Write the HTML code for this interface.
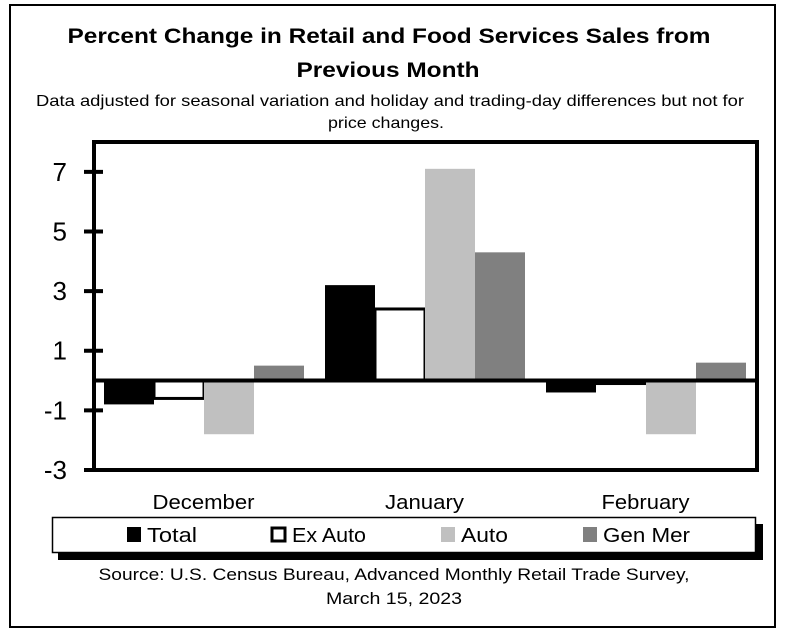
<!DOCTYPE html>
<html><head><meta charset="utf-8"><style>
html,body{margin:0;padding:0;background:#fff;}
body{width:786px;height:633px;position:relative;overflow:hidden;font-family:"Liberation Sans",sans-serif;}
</style></head><body>
<svg width="786" height="633" xmlns="http://www.w3.org/2000/svg" style="position:absolute;left:0;top:0">
<rect x="10" y="5" width="765" height="622" fill="none" stroke="#000" stroke-width="2"/>
<g font-family="Liberation Sans, sans-serif" text-anchor="middle">
<text x="389" y="43" font-size="21" font-weight="bold" textLength="643" lengthAdjust="spacingAndGlyphs">Percent Change in Retail and Food Services Sales from</text>
<text x="388" y="77" font-size="21" font-weight="bold" textLength="183" lengthAdjust="spacingAndGlyphs">Previous Month</text>
<text x="390" y="106" font-size="16" textLength="708" lengthAdjust="spacingAndGlyphs">Data adjusted for seasonal variation and holiday and trading-day differences but not for</text>
<text x="386" y="128" font-size="16" textLength="116" lengthAdjust="spacingAndGlyphs">price changes.</text>
<text x="394" y="580" font-size="17" textLength="591" lengthAdjust="spacingAndGlyphs">Source: U.S. Census Bureau, Advanced Monthly Retail Trade Survey,</text>
<text x="394" y="604" font-size="17" textLength="136" lengthAdjust="spacingAndGlyphs">March 15, 2023</text>
</g>
<g id="bars"></g>
<rect x="94" y="142" width="663" height="328" fill="none" stroke="#000" stroke-width="4"/>
<g id="axis"></g>
<rect x="58" y="524" width="705" height="36" fill="#000"/>
<rect x="52.5" y="517.5" width="703" height="35" fill="#fff" stroke="#000" stroke-width="1.5"/>
<g font-size="20" font-family="Liberation Sans, sans-serif">
<rect x="127" y="527" width="14" height="15" fill="#000"/>
<text x="147" y="542" textLength="50" lengthAdjust="spacingAndGlyphs">Total</text>
<rect x="272" y="528" width="13" height="13" fill="#fff" stroke="#000" stroke-width="3"/>
<text x="292" y="542" textLength="74" lengthAdjust="spacingAndGlyphs">Ex Auto</text>
<rect x="441" y="527" width="14" height="15" fill="#c0c0c0"/>
<text x="461" y="542" textLength="47" lengthAdjust="spacingAndGlyphs">Auto</text>
<rect x="583" y="527" width="14" height="15" fill="#808080"/>
<text x="603" y="542" textLength="87" lengthAdjust="spacingAndGlyphs">Gen Mer</text>
</g>
</svg>
<script>
const categories=["December","January","February"];
const total=[-0.8,3.2,-0.4];
const exAuto=[-0.6,2.4,-0.1];
const auto=[-1.8,7.1,-1.8];
const genMer=[0.5,4.3,0.6];
const yTicks=[7,5,3,1,-1,-3];
const catWidths=[102,79,88];
const NS="http://www.w3.org/2000/svg";
const yMin=-3,yMax=8,plotTop=142,plotBot=470,plotLeft=94,plotRight=757;
function yScale(v){return plotBot-(v-yMin)/(yMax-yMin)*(plotBot-plotTop);}
const gw=(plotRight-plotLeft)/categories.length;
const series=[{v:total,f:"#000",s:"none",n:"total"},{v:exAuto,f:"#fff",s:"#000",n:"ex-auto"},{v:auto,f:"#c0c0c0",s:"none",n:"auto"},{v:genMer,f:"#808080",s:"none",n:"gen-mer"}];
const bw=50;
const bars=document.getElementById('bars');
categories.forEach((c,i)=>{
  const gx=plotLeft+i*gw+10;
  series.forEach((s,j)=>{
    const val=s.v[i];const y0=yScale(0),y1=yScale(val);
    const r=document.createElementNS(NS,'rect');
    r.setAttribute('x',gx+j*bw);r.setAttribute('width',bw);
    r.setAttribute('y',Math.min(y0,y1));r.setAttribute('height',Math.max(Math.abs(y1-y0),0.5));
    r.setAttribute('fill',s.f);
    if(s.s!=="none"){r.setAttribute('stroke',s.s);r.setAttribute('stroke-width',3);}
    
    
    bars.appendChild(r);
  });
  const t=document.createElementNS(NS,'text');
  t.setAttribute('x',plotLeft+i*gw+gw/2-1);t.setAttribute('y',509);
  t.setAttribute('text-anchor','middle');t.setAttribute('font-size','20');
  t.setAttribute('font-family','Liberation Sans, sans-serif');
  t.setAttribute('textLength',catWidths[i]);t.setAttribute('lengthAdjust','spacingAndGlyphs');
  t.textContent=c;
  
  
  bars.appendChild(t);
});
const ax=document.getElementById('axis');
const zl=document.createElementNS(NS,'line');
zl.setAttribute('x1',plotLeft);zl.setAttribute('x2',plotRight);zl.setAttribute('y1',yScale(0));zl.setAttribute('y2',yScale(0));
zl.setAttribute('stroke','#000');zl.setAttribute('stroke-width',4);


ax.appendChild(zl);
yTicks.forEach(v=>{
  const l=document.createElementNS(NS,'line');
  l.setAttribute('x1',84);l.setAttribute('x2',103);l.setAttribute('y1',yScale(v));l.setAttribute('y2',yScale(v));
  l.setAttribute('stroke','#000');l.setAttribute('stroke-width',4);
  
  
  ax.appendChild(l);
  const t=document.createElementNS(NS,'text');
  t.setAttribute('x',67);t.setAttribute('y',yScale(v)+9);t.setAttribute('text-anchor','end');
  t.setAttribute('font-size','26');t.setAttribute('font-family','Liberation Sans, sans-serif');
  t.textContent=v;
  
  
  ax.appendChild(t);
});
</script>
</body></html>
